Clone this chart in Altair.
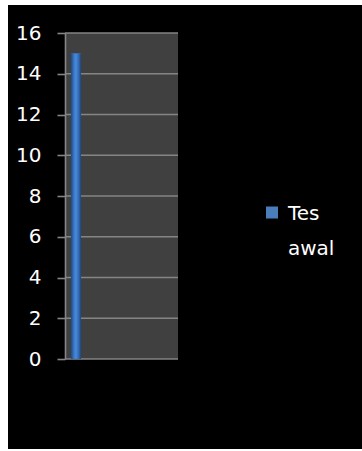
import altair as alt
import pandas as pd

series = ["Tes awal"]
values = [15]
y_ticks = [0, 2, 4, 6, 8, 10, 12, 14, 16]

bars = pd.DataFrame({"series": series, "value": values})
grid = pd.DataFrame({"tick": y_ticks})

W, H = 113, 326
FONT = "DejaVu Sans"

yscale = alt.Scale(domain=[0, 16], nice=False, zero=True)
xscale = alt.Scale(type="band", domain=series, paddingInner=0, paddingOuter=0, range=[6, 16])
yaxis = alt.Axis(values=y_ticks, grid=False, zindex=1,
                 domainColor="#858585", domainWidth=1.6,
                 tickColor="#858585", tickWidth=1.6, tickSize=8,
                 labelColor="white", labelFont=FONT, labelFontSize=20,
                 labelPadding=16, labelBaseline="middle")

black = alt.Chart(bars).mark_rect(color="black").encode(
    x=alt.value(-57), x2=alt.value(297), y=alt.value(-28), y2=alt.value(416)
)
plotbg = alt.Chart(bars).mark_rect(color="#404040").encode(
    x=alt.value(0), x2=alt.value(W), y=alt.value(0), y2=alt.value(H)
)
rules = alt.Chart(grid).mark_rule(color="#858585", strokeWidth=1.6).encode(
    y=alt.Y("tick:Q", scale=yscale, title=None, axis=yaxis)
)

bar = alt.Chart(bars).mark_bar().encode(
    x=alt.X("series:N", scale=xscale, axis=None),
    y=alt.Y("value:Q", scale=yscale, title=None, axis=yaxis),
    color=alt.Color("series:N",
                    scale=alt.Scale(domain=series, range=["#4a7ebb"]),
                    legend=alt.Legend(title=None, orient="none", legendX=197, legendY=161,
                                      symbolType="M-1,0.42H1V2.42H-1Z", symbolSize=144,
                                      symbolStrokeWidth=0, labelColor="white",
                                      labelFont=FONT, labelFontSize=20,
                                      labelOffset=6, labelBaseline="top",
                                      labelExpr="split(datum.label, ' ')")),
)

grad = alt.Gradient(
    gradient="linear",
    stops=[
        alt.GradientStop(color="#1d4a86", offset=0),
        alt.GradientStop(color="#3f7fd0", offset=0.35),
        alt.GradientStop(color="#4a88d6", offset=0.5),
        alt.GradientStop(color="#336cb8", offset=0.75),
        alt.GradientStop(color="#1c4580", offset=1),
    ],
    x1=0, x2=1, y1=0, y2=0,
)
bar_grad = alt.Chart(bars).mark_bar(color=grad).encode(
    x=alt.X("series:N", scale=xscale, axis=None),
    y=alt.Y("value:Q", scale=yscale, title=None, axis=yaxis),
)

chart = alt.layer(black, plotbg, rules, bar, bar_grad).properties(
    width=W, height=H,
    autosize=alt.AutoSizeParams(type="none"),
    padding={"left": 65, "top": 33, "right": 184, "bottom": 92},
    background="white",
).configure_view(stroke=None).configure(style={"guide-label": {"lineHeight": 35}})

chart.save("out.html", embed_options={"renderer": "svg", "actions": False})
